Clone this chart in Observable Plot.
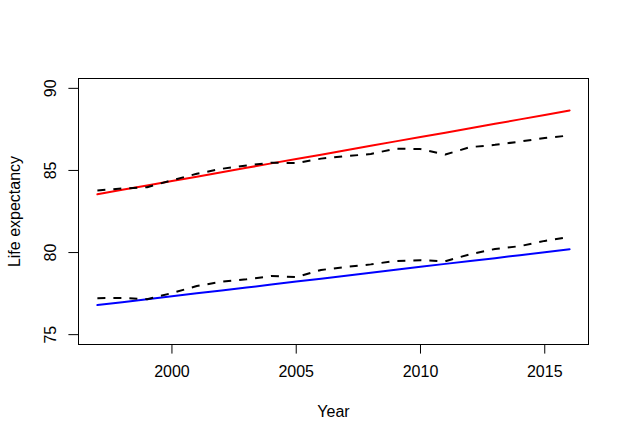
<!DOCTYPE html>
<html>
<head>
<meta charset="utf-8">
<script src="https://cdn.jsdelivr.net/npm/d3@7"></script>
<script src="https://cdn.jsdelivr.net/npm/@observablehq/plot@0.6"></script>
<style>
  html, body { margin: 0; padding: 0; background: #fff; }
  svg { font-family: "Liberation Sans", Arial, sans-serif; }
</style>
</head>
<body>
<div id="chart"></div>
<script>
const years = [1997,1998,1999,2000,2001,2002,2003,2004,2005,2006,2007,2008,2009,2010,2011,2012,2013,2014,2015,2016];
const femaleFitted = [83.55,83.82,84.09,84.36,84.62,84.89,85.16,85.43,85.70,85.96,86.23,86.50,86.77,87.04,87.30,87.57,87.84,88.11,88.38,88.65];
const femaleObserved = [83.78,83.90,83.98,84.40,84.80,85.10,85.30,85.47,85.45,85.72,85.87,86.00,86.33,86.30,85.97,86.42,86.56,86.76,86.98,87.13];
const maleFitted = [76.80,76.98,77.16,77.34,77.52,77.69,77.87,78.05,78.23,78.41,78.59,78.77,78.95,79.13,79.31,79.48,79.66,79.84,80.02,80.20];
const maleObserved = [77.22,77.24,77.16,77.53,77.96,78.22,78.37,78.57,78.51,78.94,79.12,79.28,79.49,79.53,79.47,79.90,80.22,80.39,80.71,80.95];
const xTicks = [2000, 2005, 2010, 2015];
const yTicks = [75, 80, 85, 90];

const toRows = (vals) => years.map((year, i) => ({year, value: vals[i]}));

const chart = Plot.plot({
  width: 629,
  height: 442,
  marginLeft: 78,
  marginRight: 41,
  marginTop: 78,
  marginBottom: 98,
  style: {fontFamily: "'Liberation Sans', Arial, sans-serif", fontSize: "16px", background: "#fff"},
  x: {domain: [1996.24, 2016.76]},
  y: {domain: [74.4, 90.6]},
  marks: [
    Plot.frame({stroke: "black", strokeWidth: 1}),
    Plot.axisX({ticks: xTicks, tickSize: 9.6, tickPadding: 12, tickFormat: d => String(d), fontSize: 16, label: null, stroke: "black", fill: "black"}),
    Plot.axisY({ticks: yTicks, tickSize: 9.6, tickFormat: () => "", label: null, stroke: "black"}),
    Plot.text(yTicks, {y: d => d, text: d => String(d), frameAnchor: "left", dx: -28, rotate: -90, textAnchor: "middle", lineAnchor: "middle", fontSize: 16, fill: "black"}),
    Plot.text(["Year"], {frameAnchor: "bottom", dy: 67, lineAnchor: "middle", fontSize: 16, fill: "black"}),
    Plot.text(["Life expectancy"], {frameAnchor: "left", dx: -64, rotate: -90, textAnchor: "middle", lineAnchor: "middle", fontSize: 16, fill: "black"}),
    Plot.line(toRows(femaleFitted), {x: "year", y: "value", stroke: "#ff0000", strokeWidth: 2}),
    Plot.line(toRows(maleFitted), {x: "year", y: "value", stroke: "#0000ff", strokeWidth: 2}),
    Plot.line(toRows(femaleObserved), {x: "year", y: "value", stroke: "black", strokeWidth: 2, strokeDasharray: "8,8", strokeLinecap: "butt"}),
    Plot.line(toRows(maleObserved), {x: "year", y: "value", stroke: "black", strokeWidth: 2, strokeDasharray: "8,8", strokeLinecap: "butt"})
  ]
});
document.getElementById("chart").appendChild(chart);
</script>
</body>
</html>
